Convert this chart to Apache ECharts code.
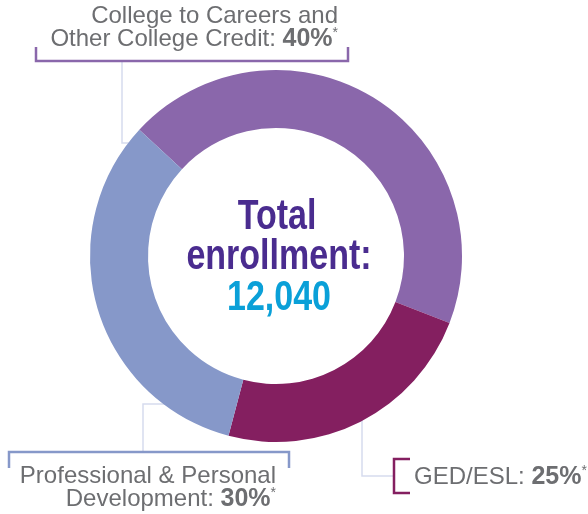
<!DOCTYPE html>
<html>
<head>
<meta charset="utf-8">
<script src="https://cdn.jsdelivr.net/npm/echarts@6/dist/echarts.min.js"></script>
<style>
html,body{margin:0;padding:0;background:#fff;}
#c{width:588px;height:514px;}
</style>
</head>
<body>
<div id="c"></div>
<script>
// Data
var categories = ['College to Careers and Other College Credit', 'GED/ESL', 'Professional & Personal Development'];
var sliceShares = [44, 23.25, 32.75];      // arc sizes as drawn in the picture
var labelPercents = ['40%', '25%', '30%'];  // percentages printed in the labels
var totalEnrollment = '12,040';
var sliceColors = ['#8A67AB', '#841F60', '#8698C9'];

var CX = 276, CY = 256;
var gray = '#6D6E71', dark = '#5A5B5E';
var lead = '#D6DBEE';
var labelFont = "'Liberation Sans', Arial, sans-serif";
var condFont = "'Liberation Sans', Arial, sans-serif";

var rich = {
  n: {fontSize: 24, fontFamily: labelFont, color: gray},
  b: {fontSize: 25, fontFamily: labelFont, color: dark, fontWeight: 'bold'},
  s: {fontSize: 14, fontFamily: labelFont, color: dark, verticalAlign: 'top', lineHeight: 24}
};
function richText(x, y, txt, align) {
  return {type: 'text', x: x, y: y, silent: true,
    style: {text: txt, rich: rich, align: align, verticalAlign: 'middle', font: '24px ' + labelFont, fill: gray}};
}
function line(points, color, w) {
  return {type: 'polyline', silent: true, shape: {points: points},
    style: {stroke: color, lineWidth: w, fill: null}};
}
function dot(x, y) {
  return {type: 'circle', silent: true, shape: {cx: x, cy: y, r: 3},
    style: {fill: '#fff', stroke: '#E8EAF4', lineWidth: 0.5}};
}
function centerText(x, y, txt, color) {
  return {type: 'text', x: x, y: y, scaleX: 0.81, silent: true,
    style: {text: txt, font: 'bold 42px ' + condFont, fill: color, align: 'center', verticalAlign: 'middle'}};
}

var chart = echarts.init(document.getElementById('c'), null, {renderer: 'canvas'});
chart.setOption({
  animation: false,
  series: [{
    type: 'pie',
    center: [CX, CY],
    radius: [128, 186],
    startAngle: 137.3,
    clockwise: true,
    label: {show: false},
    labelLine: {show: false},
    emphasis: {disabled: true},
    itemStyle: {borderWidth: 0},
    data: categories.map(function (c, i) {
      return {name: c, value: sliceShares[i], itemStyle: {color: sliceColors[i]}};
    })
  }],
  graphic: [
    // center text
    centerText(CX + 1, 217, 'Total', '#4A2C8F'),
    centerText(CX + 3, 257, 'enrollment:', '#4A2C8F'),
    centerText(CX + 3, 298, totalEnrollment, '#0AA0D8'),

    // leader lines
    line([[122, 61], [122, 143], [151, 143]], lead, 1.5),
    line([[143, 452], [143, 404], [181, 404]], lead, 1.5),
    line([[362, 413], [362, 476], [394, 476]], lead, 1.5),
    dot(151, 143), dot(181, 404), dot(362, 413),

    // brackets
    line([[36, 47], [36, 61], [348, 61], [348, 47]], sliceColors[0], 2.5),
    line([[9, 468], [9, 452], [289, 452], [289, 468]], sliceColors[2], 2.5),
    line([[410, 459], [394, 459], [394, 493], [410, 493]], sliceColors[1], 2.5),

    // labels
    richText(338, 16, '{n|College to Careers and}', 'right'),
    richText(338, 39, '{n|Other College Credit: }{b|' + labelPercents[0] + '}{s|*}', 'right'),
    richText(276, 476, '{n|Professional & Personal}', 'right'),
    richText(276, 499, '{n|Development: }{b|' + labelPercents[2] + '}{s|*}', 'right'),
    richText(414, 477, '{n|GED/ESL: }{b|' + labelPercents[1] + '}{s|*}', 'left')
  ]
});
</script>
</body>
</html>
